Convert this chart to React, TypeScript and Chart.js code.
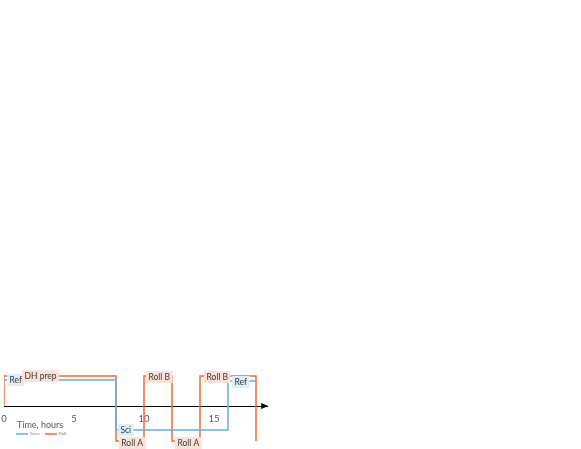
import React, { useEffect, useRef } from "react";
import { Chart, registerables } from "chart.js";

Chart.register(...registerables);

// ---- data ----
const stareTimes = [0, 8, 8, 16, 16, 18];
const stareValues = [2.6, 2.6, -2.4, -2.4, 2.5, 2.5];
const rollTimes = [0, 0, 8, 8, 10, 10, 12, 12, 14, 14, 18, 18];
const rollValues = [0, 3, 3, -3.5, -3.5, 3, 3, -3.5, -3.5, 3, 3, -3.5];
const seriesNames = ["Stare", "Roll"];
const tickValues = [0, 5, 10, 15];
const axisTitle = "Time, hours";

const labelTexts = ["Ref", "DH prep", "Sci", "Roll A", "Roll B", "Roll A", "Roll B", "Ref"];
const labelTimes = [0.21, 1.29, 8.14, 8.2, 10.14, 12.21, 14.29, 16.29];
const labelValues = [2.6, 3, -2.4, -3.7, 2.9, -3.7, 2.9, 2.4];
const labelSeries = [0, 1, 0, 1, 1, 1, 1, 0];

const lineColors = ["#5EB1EE", "#FF6428"];
const labelBg = ["#DDEFFB", "#FCE1D8"];
const FONT = "Lato, 'Open Sans', sans-serif";

const overlayPlugin = {
  id: "overlay",
  afterDatasetsDraw(chart: any) {
    const { ctx, scales } = chart;
    const x = scales.x;
    const y = scales.y;
    ctx.save();
    // arrow head at end of axis
    const ax = x.right;
    const ay = y.getPixelForValue(0);
    ctx.fillStyle = "#000";
    ctx.beginPath();
    ctx.moveTo(ax + 1, ay);
    ctx.lineTo(ax - 6, ay - 3);
    ctx.lineTo(ax - 6, ay + 3);
    ctx.closePath();
    ctx.fill();

    // annotation labels
    ctx.font = `8.5px ${FONT}`;
    ctx.textBaseline = "middle";
    ctx.textAlign = "left";
    labelTexts.forEach((t, i) => {
      const px = x.getPixelForValue(labelTimes[i]);
      const py = y.getPixelForValue(labelValues[i]);
      const w = ctx.measureText(t).width + 5;
      const h = 12;
      ctx.fillStyle = labelBg[labelSeries[i]];
      ctx.fillRect(px, py - h / 2, w, h);
      ctx.fillStyle = "#3a3a3a";
      ctx.fillText(t, px + 2.5, py + 0.5);
    });

    // axis title
    ctx.font = `9px ${FONT}`;
    ctx.fillStyle = "#595959";
    ctx.fillText(axisTitle, x.left + 13, ay + 19);

    // legend
    const ly = ay + 28;
    let lx = x.left + 12;
    ctx.font = `4.5px ${FONT}`;
    chart.data.datasets.forEach((ds: any) => {
      ctx.strokeStyle = ds.borderColor;
      ctx.lineWidth = 1.5;
      ctx.beginPath();
      ctx.moveTo(lx, ly);
      ctx.lineTo(lx + 12, ly);
      ctx.stroke();
      ctx.fillStyle = "#8c8c8c";
      ctx.fillText(ds.label, lx + 14, ly);
      lx += 29;
    });
    ctx.restore();
  },
};

export default function App() {
  const ref = useRef<HTMLCanvasElement>(null);
  useEffect(() => {
    if (!ref.current) return;
    const chart = new Chart(ref.current, {
      type: "line",
      data: {
        datasets: [
          {
            label: seriesNames[0],
            data: stareTimes.map((t, i) => ({ x: t, y: stareValues[i] })),
            borderColor: lineColors[0],
            backgroundColor: lineColors[0],
            borderWidth: 1.5,
            pointRadius: 0,
            tension: 0,
          },
          {
            label: seriesNames[1],
            data: rollTimes.map((t, i) => ({ x: t, y: rollValues[i] })),
            borderColor: lineColors[1],
            backgroundColor: lineColors[1],
            borderWidth: 1.5,
            pointRadius: 0,
            tension: 0,
          },
        ],
      },
      options: {
        responsive: false,
        animation: false,
        layout: { padding: { left: 4, right: 581 - 267.2, top: 356, bottom: 0 } },
        plugins: {
          legend: { display: false },
          tooltip: { enabled: false },
        },
        scales: {
          x: {
            type: "linear",
            min: 0,
            max: 18.8,
            position: { y: 0 } as any,
            grid: { display: false, drawTicks: false },
            border: { display: true, color: "#000", width: 1 },
            afterBuildTicks: (s: any) => {
              s.ticks = tickValues.map((v) => ({ value: v }));
            },
            afterFit: (s: any) => {
              s.paddingLeft = 0;
              s.paddingRight = 0;
            },
            ticks: {
              padding: 7,
              color: "#595959",
              font: { family: FONT, size: 9.5 },
              maxRotation: 0,
              autoSkip: false,
            },
          },
          y: {
            type: "linear",
            min: -4.3,
            max: 5,
            display: false,
          },
        },
      },
      plugins: [overlayPlugin],
    });
    return () => chart.destroy();
  }, []);
  return (
    <div style={{ position: "fixed", left: 0, top: 0, width: 581, height: 449 }}>
      <canvas ref={ref} width={581} height={449} />
    </div>
  );
}
